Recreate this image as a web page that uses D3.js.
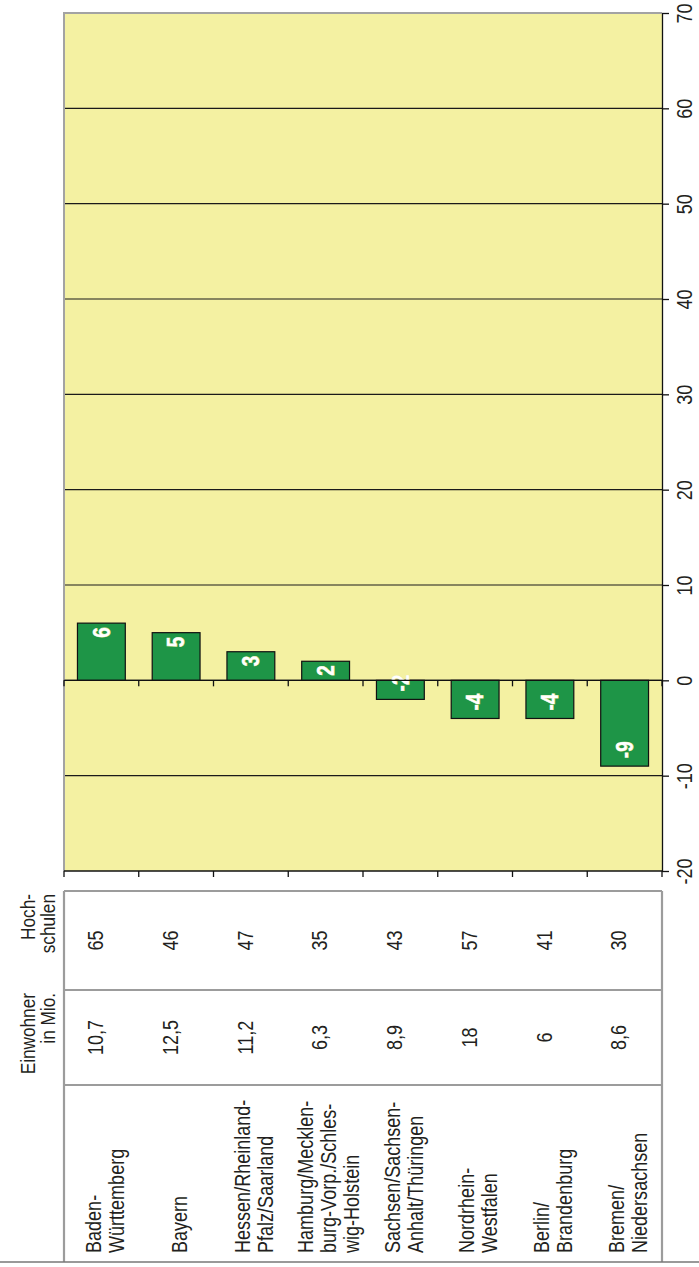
<!DOCTYPE html>
<meta charset="utf-8">
<title>Hochschulen</title>
<style>
body { margin: 0; background: #fff; }
svg { display: block; }
text { font-family: "Liberation Sans", Arial, sans-serif; fill: #231f20; }
.grid line { stroke: #1a1a1a; stroke-width: 1.2px; }
.bar { fill: #1e9547; stroke: #111; stroke-width: 1.2px; }
.barlabel { fill: #fff; font-weight: bold; font-size: 23px; stroke: #e9e8a0; stroke-width: 0.8px; paint-order: stroke; }
.cell { font-size: 22px; }
.head { font-size: 21px; }
</style>
<body>
<svg width="699" height="1267"></svg>
<script src="https://d3js.org/d3.v7.min.js"></script>
<script>

// data
var regions = ["Baden-\nWürttemberg", "Bayern", "Hessen/Rheinland-\nPfalz/Saarland",
  "Hamburg/Mecklen-\nburg-Vorp./Schles-\nwig-Holstein", "Sachsen/Sachsen-\nAnhalt/Thüringen",
  "Nordrhein-\nWestfalen", "Berlin/\nBrandenburg", "Bremen/\nNiedersachsen"];
var changes = [6, 5, 3, 2, -2, -4, -4, -9];
var einwohner = ["10,7", "12,5", "11,2", "6,3", "8,9", "18", "6", "8,6"];
var hochschulen = ["65", "46", "47", "35", "43", "57", "41", "30"];
var valueTicks = [-20, -10, 0, 10, 20, 30, 40, 50, 60, 70];
var headers = [["Hoch-", "schulen"], ["Einwohner", "in Mio."]];

var svg = d3.select("svg");

// narrow look: squeeze text along its reading direction
var narrow = " scale(0.82,1)";

var plotL = 64, plotR = 662, plotT = 13, plotB = 871;
var tableTop = 891, sep1 = 990, sep2 = 1085, tableBottom = 1262;

var x = d3.scaleBand()
    .domain(regions)
    .range([plotL, plotR])
    .paddingInner(0.36)
    .paddingOuter(0.18);

var y = d3.scaleLinear()
    .domain([-20, 70])
    .range([plotB, plotT]);

var gap = (x.step() - x.bandwidth()) / 2;
var bounds = regions.map(function(d) { return x(d) - gap; }).concat([plotR]);

// plot background
svg.append("rect")
    .attr("x", plotL).attr("y", plotT)
    .attr("width", plotR - plotL).attr("height", plotB - plotT)
    .style("fill", "#f4f1a2");

// gridlines
svg.append("g").attr("class", "grid")
  .selectAll("line")
  .data(valueTicks.filter(function(v) { return v > -20 && v < 70; }))
  .enter().append("line")
    .attr("x1", plotL).attr("x2", plotR)
    .attr("y1", function(d) { return y(d); })
    .attr("y2", function(d) { return y(d); });

// plot border (grey top + left)
svg.append("path")
    .attr("d", "M" + plotL + "," + plotB + "V" + plotT + "H" + plotR)
    .style("fill", "none").style("stroke", "#a3a3a3").style("stroke-width", 2);

// bars
svg.selectAll(".bar")
  .data(changes)
  .enter().append("rect")
    .attr("class", "bar")
    .attr("x", function(d, i) { return x(regions[i]); })
    .attr("width", x.bandwidth())
    .attr("y", function(d) { return y(Math.max(0, d)); })
    .attr("height", function(d) { return Math.abs(y(d) - y(0)); });

svg.selectAll(".barlabel")
  .data(changes)
  .enter().append("text")
    .attr("class", "barlabel")
    .attr("dy", "0.36em")
    .attr("text-anchor", function(d) { return d > 0 ? "end" : "start"; })
    .attr("transform", function(d, i) {
      var cx = x(regions[i]) + x.bandwidth() / 2;
      var cy = d > 0 ? y(d) + 4 : y(d) - 8;
      return "translate(" + cx + "," + cy + ") rotate(-90)" + narrow;
    })
    .text(function(d) { return d; });

// category axis at zero and bottom edge
[0, -20].forEach(function(v) {
  var g = svg.append("g").attr("transform", "translate(0," + y(v) + ")");
  g.append("line").attr("x1", plotL).attr("x2", plotR)
    .style("stroke", "#111").style("stroke-width", 1.3);
  g.selectAll("line.t")
    .data(bounds)
    .enter().append("line")
      .attr("class", "t")
      .attr("x1", function(d) { return d; }).attr("x2", function(d) { return d; })
      .attr("y1", 0).attr("y2", 6)
      .style("stroke", "#111").style("stroke-width", 1.3);
});

// value axis on the right
var axis = svg.append("g")
    .attr("transform", "translate(" + plotR + ",0)")
    .call(d3.axisRight(y).tickValues(valueTicks).tickFormat(String).tickSize(7).tickSizeOuter(0));
axis.attr("font-family", null).attr("font-size", null);
axis.select(".domain").style("stroke", "#111").style("stroke-width", 1.3);
axis.selectAll(".tick line").style("stroke", "#111").style("stroke-width", 1.3);
axis.selectAll(".tick text")
    .attr("x", null).attr("dy", null)
    .attr("fill", null)
    .attr("text-anchor", "middle")
    .attr("transform", "translate(30,0) rotate(-90)" + narrow)
    .style("font-size", "22px");

// table
var tableLines = [
  [plotL, tableTop, plotR, tableTop],
  [plotL, sep1, plotR, sep1],
  [plotL, sep2, plotR, sep2],
  [plotL, tableTop, plotL, tableBottom],
  [plotR, tableTop, plotR, tableBottom]
];
svg.selectAll(".tline")
  .data(tableLines)
  .enter().append("line")
    .attr("x1", function(d) { return d[0]; }).attr("y1", function(d) { return d[1]; })
    .attr("x2", function(d) { return d[2]; }).attr("y2", function(d) { return d[3]; })
    .style("stroke", "#9c9c9c").style("stroke-width", 2.2);
svg.append("line")
    .attr("x1", 0).attr("x2", 699)
    .attr("y1", tableBottom).attr("y2", tableBottom)
    .style("stroke", "#777").style("stroke-width", 1.6);

function cellText(values, cy) {
  svg.append("g").selectAll("text")
    .data(values)
    .enter().append("text")
      .attr("class", "cell")
      .attr("text-anchor", "middle")
      .attr("dy", "0.35em")
      .attr("transform", function(d, i) {
        return "translate(" + (x(regions[i]) + x.bandwidth() / 2 - 6) + "," + cy + ") rotate(-90)" + narrow;
      })
      .text(function(d) { return d; });
}
cellText(hochschulen, (tableTop + sep1) / 2);
cellText(einwohner, (sep1 + sep2) / 2);

// region names
var lineH = 23;
var names = svg.append("g").selectAll("text")
  .data(regions)
  .enter().append("text")
    .attr("class", "cell")
    .attr("transform", function(d) {
      return "translate(" + (x(d) + x.bandwidth() / 2 + 3) + "," + 1253 + ") rotate(-90)" + narrow;
    });
names.each(function(d) {
  var lines = d.split("\n");
  d3.select(this).selectAll("tspan")
    .data(lines)
    .enter().append("tspan")
      .attr("x", 0)
      .attr("y", function(l, j) { return (j - (lines.length - 1) / 2) * lineH; })
      .attr("dy", "0.35em")
      .text(function(l) { return l; });
});

// row headers
var headY = [tableTop + 3, sep1 + 3];
headers.forEach(function(h, k) {
  svg.append("text")
    .attr("class", "head")
    .attr("text-anchor", "end")
    .attr("transform", "translate(0," + headY[k] + ") rotate(-90)" + narrow)
    .selectAll("tspan")
    .data(h)
    .enter().append("tspan")
      .attr("x", 0)
      .attr("y", function(l, j) { return 35 + j * 20; })
      .text(function(l) { return l; });
});

</script>
